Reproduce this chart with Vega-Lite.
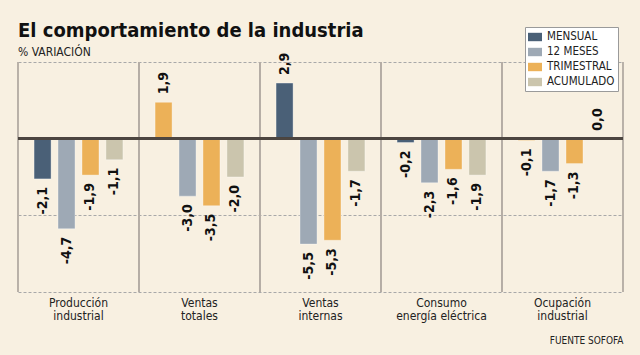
{
  "$schema": "https://vega.github.io/schema/vega-lite/v6.json",
  "autosize": {"type": "none"},
  "width": 605,
  "height": 230,
  "padding": {"left": 18, "top": 62, "right": 17, "bottom": 63},
  "background": "#F8F0E1",
  "title": {
    "text": "El comportamiento de la industria",
    "subtitle": "% VARIACIÓN",
    "anchor": "start",
    "frame": "group",
    "font": "DejaVu Sans Condensed, DejaVu Sans",
    "fontSize": 20,
    "fontWeight": "bold",
    "color": "#111111",
    "subtitleFont": "DejaVu Sans Condensed, DejaVu Sans",
    "subtitleFontSize": 12,
    "subtitleColor": "#222222",
    "subtitlePadding": 6,
    "offset": -31
  },
  "config": {
    "view": {"stroke": null},
    "font": "DejaVu Sans Condensed, DejaVu Sans",
    "locale": {"number": {"decimal": ",", "thousands": ".", "grouping": [3], "currency": ["", "€"], "minus": "-"}}
  },
  "data": {
    "values": [
      {"indicador": "Producción industrial", "periodo": "MENSUAL", "valor": -2.1},
      {"indicador": "Producción industrial", "periodo": "12 MESES", "valor": -4.7},
      {"indicador": "Producción industrial", "periodo": "TRIMESTRAL", "valor": -1.9},
      {"indicador": "Producción industrial", "periodo": "ACUMULADO", "valor": -1.1},
      {"indicador": "Ventas totales", "periodo": "MENSUAL", "valor": 1.9},
      {"indicador": "Ventas totales", "periodo": "12 MESES", "valor": -3.0},
      {"indicador": "Ventas totales", "periodo": "TRIMESTRAL", "valor": -3.5},
      {"indicador": "Ventas totales", "periodo": "ACUMULADO", "valor": -2.0},
      {"indicador": "Ventas internas", "periodo": "MENSUAL", "valor": 2.9},
      {"indicador": "Ventas internas", "periodo": "12 MESES", "valor": -5.5},
      {"indicador": "Ventas internas", "periodo": "TRIMESTRAL", "valor": -5.3},
      {"indicador": "Ventas internas", "periodo": "ACUMULADO", "valor": -1.7},
      {"indicador": "Consumo energía eléctrica", "periodo": "MENSUAL", "valor": -0.2},
      {"indicador": "Consumo energía eléctrica", "periodo": "12 MESES", "valor": -2.3},
      {"indicador": "Consumo energía eléctrica", "periodo": "TRIMESTRAL", "valor": -1.6},
      {"indicador": "Consumo energía eléctrica", "periodo": "ACUMULADO", "valor": -1.9},
      {"indicador": "Ocupación industrial", "periodo": "MENSUAL", "valor": -0.1},
      {"indicador": "Ocupación industrial", "periodo": "12 MESES", "valor": -1.7},
      {"indicador": "Ocupación industrial", "periodo": "TRIMESTRAL", "valor": -1.3},
      {"indicador": "Ocupación industrial", "periodo": "ACUMULADO", "valor": 0.0}
    ]
  },
  "layer": [
    {
      "mark": {"type": "rule", "color": "#B5ADA5", "strokeWidth": 1},
      "encoding": {
        "x": {"field": "indicador", "type": "nominal", "title": "FUENTE SOFOFA", "bandPosition": 0,
              "sort": ["Producción industrial", "Ventas totales", "Ventas internas", "Consumo energía eléctrica", "Ocupación industrial"],
              "scale": {"paddingInner": 0, "paddingOuter": 0}}
      }
    },
    {
      "mark": {"type": "rule", "color": "#B5ADA5", "strokeWidth": 1},
      "encoding": {
        "x": {"field": "indicador", "type": "nominal", "title": "FUENTE SOFOFA", "bandPosition": 1,
              "sort": ["Producción industrial", "Ventas totales", "Ventas internas", "Consumo energía eléctrica", "Ocupación industrial"],
              "scale": {"paddingInner": 0, "paddingOuter": 0}}
      }
    },
    {
      "mark": {"type": "bar", "stroke": "#ffffff", "strokeOpacity": 0.35, "strokeWidth": 1},
      "encoding": {
        "x": {"field": "indicador", "type": "nominal", "title": "FUENTE SOFOFA",
              "sort": ["Producción industrial", "Ventas totales", "Ventas internas", "Consumo energía eléctrica", "Ocupación industrial"],
              "scale": {"paddingInner": 0, "paddingOuter": 0},
              "axis": {
                "labelExpr": "datum.label == 'Consumo energía eléctrica' ? ['Consumo', 'energía eléctrica'] : split(datum.label, ' ')",
                "labelAngle": 0, "labelAlign": "center", "labelFontSize": 12, "labelColor": "#222222", "labelLineHeight": 13,
                "labelPadding": 5, "labelBaseline": "top", "ticks": false, "domain": false, "grid": false,
                "titleFontSize": 10, "titleFontWeight": "normal", "titleAnchor": "end", "titleColor": "#222222", "titlePadding": 14
              }},
        "xOffset": {"field": "periodo", "type": "nominal", "sort": ["MENSUAL", "12 MESES", "TRIMESTRAL", "ACUMULADO"],
                    "scale": {"paddingInner": 0.29, "paddingOuter": 0.67}},
        "y": {"field": "valor", "type": "quantitative", "scale": {"domain": [-8, 4], "nice": false},
              "axis": {"labels": false, "ticks": false, "domain": false, "title": null, "grid": true,
                       "gridDash": [3, 2], "gridColor": "#A8A8A8", "values": [-8, -4, 4]}},
        "color": {
          "field": "periodo", "type": "nominal",
          "condition": {"test": "datum.periodo === 'MENSUAL' && (datum.indicador === 'Ventas totales' || datum.indicador === 'Ocupación industrial')", "value": "#ECB158"},
          "scale": {"domain": ["MENSUAL", "12 MESES", "TRIMESTRAL", "ACUMULADO"], "range": ["#4A6077", "#9EA9B5", "#ECB158", "#CBC5AD"]},
          "legend": {"title": null, "orient": "none", "legendX": 507, "legendY": -35, "fillColor": "#ffffff",
                     "strokeColor": "#9A9A9A", "padding": 3, "symbolType": "M-1,-0.6H1V0.6H-1Z", "symbolSize": 196,
                     "symbolStrokeWidth": 0, "symbolOpacity": 1, "labelFontSize": 11.5, "labelColor": "#222222",
                     "rowPadding": 2, "labelOffset": 5}
        }
      }
    },
    {
      "mark": {"type": "rule", "color": "#4D4640", "strokeWidth": 2},
      "encoding": {"y": {"datum": 0}}
    },
    {
      "transform": [{"filter": "datum.valor >= 0"}],
      "mark": {"type": "text", "angle": 270, "align": "left", "baseline": "middle", "dx": 8, "fontSize": 14, "fontWeight": "bold", "color": "#111111"},
      "encoding": {
        "x": {"field": "indicador", "type": "nominal", "title": "FUENTE SOFOFA",
              "sort": ["Producción industrial", "Ventas totales", "Ventas internas", "Consumo energía eléctrica", "Ocupación industrial"]},
        "xOffset": {"field": "periodo", "type": "nominal", "sort": ["MENSUAL", "12 MESES", "TRIMESTRAL", "ACUMULADO"]},
        "y": {"field": "valor", "type": "quantitative"},
        "text": {"field": "valor", "type": "quantitative", "format": ".1f"}
      }
    },
    {
      "transform": [{"filter": "datum.valor < 0"}],
      "mark": {"type": "text", "angle": 270, "align": "right", "baseline": "middle", "dx": -8, "fontSize": 14, "fontWeight": "bold", "color": "#111111"},
      "encoding": {
        "x": {"field": "indicador", "type": "nominal", "title": "FUENTE SOFOFA",
              "sort": ["Producción industrial", "Ventas totales", "Ventas internas", "Consumo energía eléctrica", "Ocupación industrial"]},
        "xOffset": {"field": "periodo", "type": "nominal", "sort": ["MENSUAL", "12 MESES", "TRIMESTRAL", "ACUMULADO"]},
        "y": {"field": "valor", "type": "quantitative"},
        "text": {"field": "valor", "type": "quantitative", "format": ".1f"}
      }
    }
  ]
}
